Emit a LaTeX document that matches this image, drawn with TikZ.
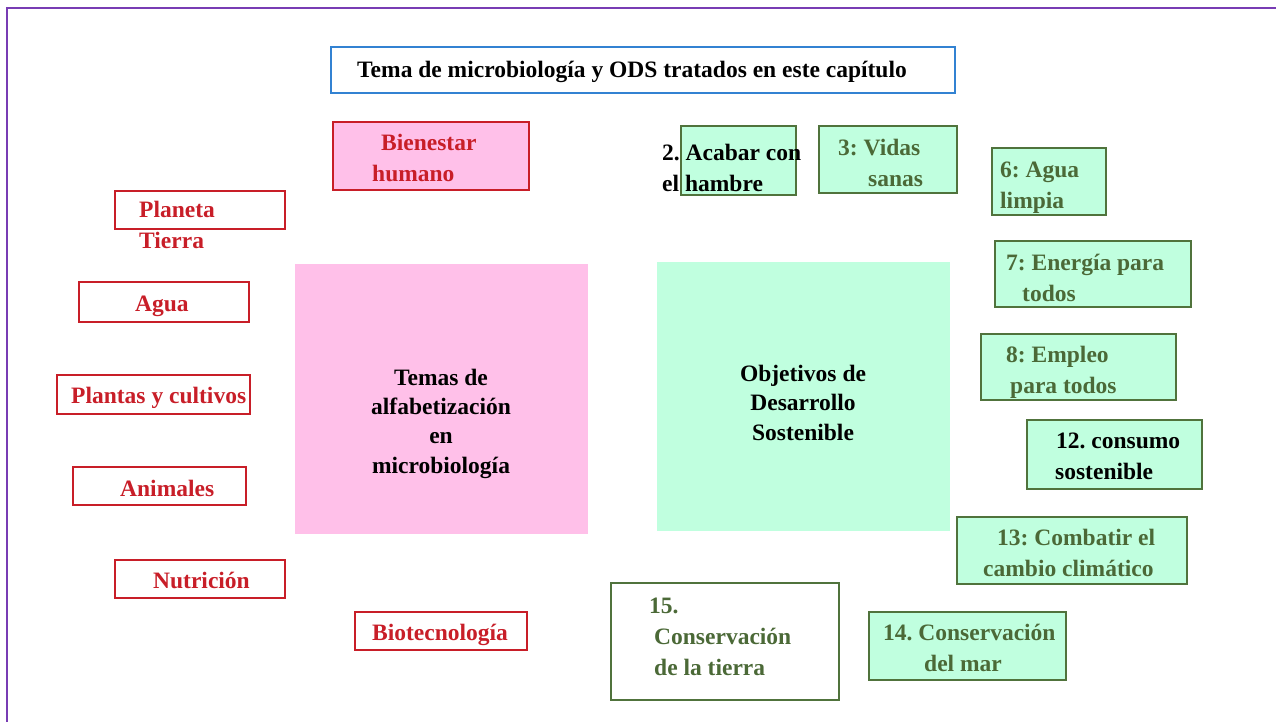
\documentclass[tikz,border=0pt]{standalone}
\usepackage{fontspec}
\setmainfont{Liberation Serif}
\frenchspacing
\definecolor{rojo}{RGB}{200,30,40}
\definecolor{rosa}{RGB}{255,192,233}
\definecolor{menta}{RGB}{192,255,223}
\definecolor{verdeosc}{RGB}{80,115,60}
\definecolor{verdetxt}{RGB}{75,105,55}
\definecolor{azul}{RGB}{50,130,210}
\definecolor{morado}{RGB}{120,60,180}
\begin{document}
\begin{tikzpicture}[x=1pt,y=1pt,yscale=-1,
  caja roja/.style={draw=rojo,line width=1.3pt},
  caja verde/.style={draw=verdeosc,line width=1.3pt},
  txt/.style={font=\bfseries\fontsize{23.5}{31}\selectfont,inner sep=0pt,anchor=base west,align=left},
  txt centro/.style={txt,font=\bfseries\fontsize{23.5}{29.3}\selectfont,align=center,anchor=base},
  txt roja/.style={txt,text=rojo},
  txt verde/.style={txt,text=verdetxt}]
\useasboundingbox (0,0) rectangle (1276,722);

%Shape: Frame
\draw[morado,line width=2pt] (7,722) -- (7,8) -- (1276,8);

%Shape: Rectangle [title]
\draw[draw=azul,line width=1.3pt] (331,47) rectangle (955,93);
% Text Node
\node[txt] (titulo) at (357,78) {Tema de microbiología y ODS tratados en este capítulo};

%Shape: Rectangle [big boxes]
\fill[rosa] (295,264) rectangle (588,534);
\fill[menta] (657,262) rectangle (950,531);
% Text Node (multi-line nodes sit on their last line)
\node[txt centro] (temas) at (441,473) {Temas de\\alfabetización\\en\\microbiología};
% Text Node
\node[txt centro] (ods) at (803,440) {Objetivos de\\Desarrollo\\Sostenible};

%Shape: Rectangle [microbiology topics]
\draw[caja roja,fill=rosa] (333,122) rectangle (529,190);
\draw[caja roja] (115,191) rectangle (285,229);
\draw[caja roja] (79,282) rectangle (249,322);
\draw[caja roja] (57,375) rectangle (250,414);
\draw[caja roja] (73,467) rectangle (246,505);
\draw[caja roja] (115,560) rectangle (285,598);
\draw[caja roja] (355,612) rectangle (527,650);
% Text Node
\node[txt roja] (bienestar) at (372,182) {\hspace*{9pt}Bienestar\\humano};
\node[txt roja] (planeta) at (139,248) {Planeta\\Tierra};
\node[txt roja] (agua) at (135,311) {Agua};
\node[txt roja] (plantas) at (71,403) {Plantas y cultivos};
\node[txt roja] (animales) at (120,496) {Animales};
\node[txt roja] (nutricion) at (153,588) {Nutrición};
\node[txt roja] (biotec) at (372,640) {Biotecnología};

%Shape: Rectangle [SDGs]
\draw[caja verde,fill=menta] (681,126) rectangle (796,195);
\draw[caja verde,fill=menta] (819,126) rectangle (957,193);
\draw[caja verde,fill=menta] (992,148) rectangle (1106,215);
\draw[caja verde,fill=menta] (995,241) rectangle (1191,307);
\draw[caja verde,fill=menta] (981,334) rectangle (1176,400);
\draw[caja verde,fill=menta] (1027,420) rectangle (1202,489);
\draw[caja verde,fill=menta] (957,517) rectangle (1187,584);
\draw[caja verde] (611,583) rectangle (839,700);
\draw[caja verde,fill=menta] (869,612) rectangle (1066,680);
% Text Node
\node[txt] (ods2) at (662,191) {2. Acabar con\\el hambre};
\node[txt verde] (ods3) at (838,186) {3: Vidas\\\hspace*{30pt}sanas};
\node[txt verde] (ods6) at (1000,208) {6: Agua\\limpia};
\node[txt verde] (ods7) at (1006,301) {7: Energía para\\\hspace*{16pt}todos};
\node[txt verde] (ods8) at (1006,393) {8: Empleo\\\hspace*{4pt}para todos};
\node[txt] (ods12) at (1055,479) {\hspace*{1pt}12. consumo\\sostenible};
\node[txt verde] (ods13) at (983,576) {\hspace*{14pt}13: Combatir el\\cambio climático};
\node[txt verde] (ods15) at (649,675) {15.\\\hspace*{5pt}Conservación\\\hspace*{5pt}de la tierra};
\node[txt verde] (ods14) at (883,671) {14. Conservación\\\hspace*{41pt}del mar};

\end{tikzpicture}
\end{document}
